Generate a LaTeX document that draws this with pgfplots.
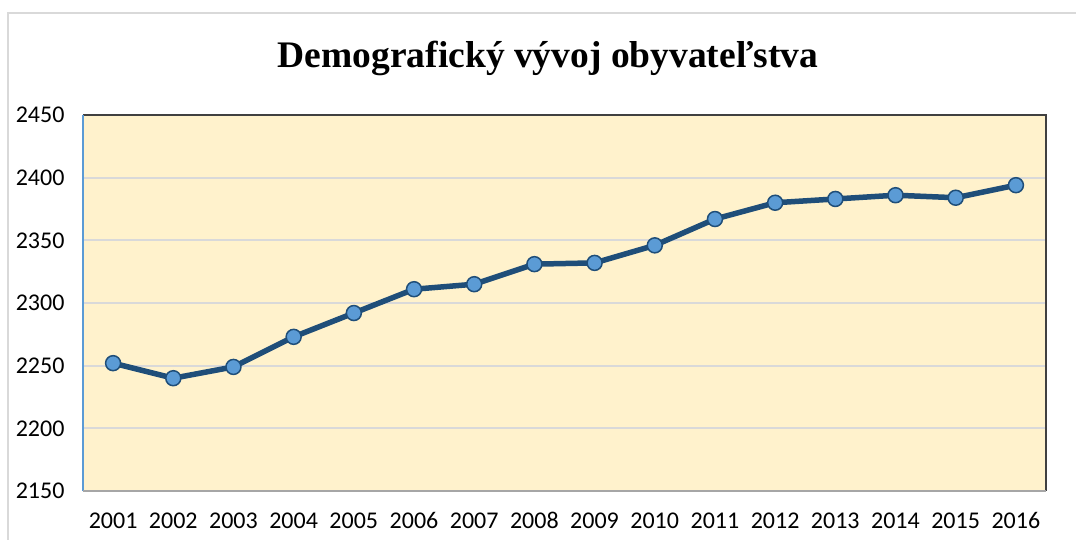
\documentclass[border=0pt]{standalone}
\usepackage{pgfplots}
\pgfplotsset{compat=1.18}
\usepackage{fontspec}
\setmainfont{Carlito}
\newfontfamily\titlefont{Liberation Serif}
\definecolor{bgY}{HTML}{FFF2CC}
\definecolor{gridG}{HTML}{D9D9D9}
\definecolor{lineB}{HTML}{1F4E79}
\definecolor{markB}{HTML}{5B9BD5}
\definecolor{frameG}{HTML}{D9D9D9}
\begin{document}
\begin{tikzpicture}[x=1bp,y=1bp]
\useasboundingbox (0,0) rectangle (1076,-540);
\draw[frameG, line width=2bp] (8,-540) -- (8,-13) -- (1076,-13);
\node[anchor=base, font=\titlefont\bfseries\fontsize{37.5bp}{40bp}\selectfont] at (548,-68) {Demografický vývoj obyvateľstva};
\begin{axis}[
  at={(83bp,-491bp)}, anchor=south west,
  scale only axis, width=963bp, height=376bp,
  xmin=2000.5, xmax=2016.5, ymin=2150, ymax=2450,
  xtick={2001,...,2016}, ytick={2150,2200,...,2450},
  axis line style={draw=none},
  axis background/.style={fill=bgY},
  major tick length=0pt,
  ymajorgrids, grid style={gridG, line width=2bp},
  /pgf/number format/1000 sep={},
  /pgf/number format/assume math mode=true,
  ticklabel style={font=\fontsize{24bp}{26bp}\selectfont},
  yticklabel style={xshift=-15bp},
  xticklabel style={anchor=base, yshift=-37bp},
  clip=false,
]
\addplot[lineB, line width=5.5bp, mark=*, mark size=7.5bp,
  mark options={fill=markB, draw=lineB, line width=1.5bp}]
coordinates {
(2001,2252) (2002,2240) (2003,2249) (2004,2273) (2005,2292) (2006,2311)
(2007,2315) (2008,2331) (2009,2332) (2010,2346) (2011,2367) (2012,2380)
(2013,2383) (2014,2386) (2015,2384) (2016,2394)
};
\draw[color=black!75, line width=1.5bp] (rel axis cs:0,1) -- (rel axis cs:1,1) -- (rel axis cs:1,0);
\draw[color=markB, line width=1.5bp] (rel axis cs:0,0) -- (rel axis cs:0,1);
\draw[color=black!35, line width=1.5bp] (rel axis cs:0,0) -- (rel axis cs:1,0);
\end{axis}
\end{tikzpicture}
\end{document}
